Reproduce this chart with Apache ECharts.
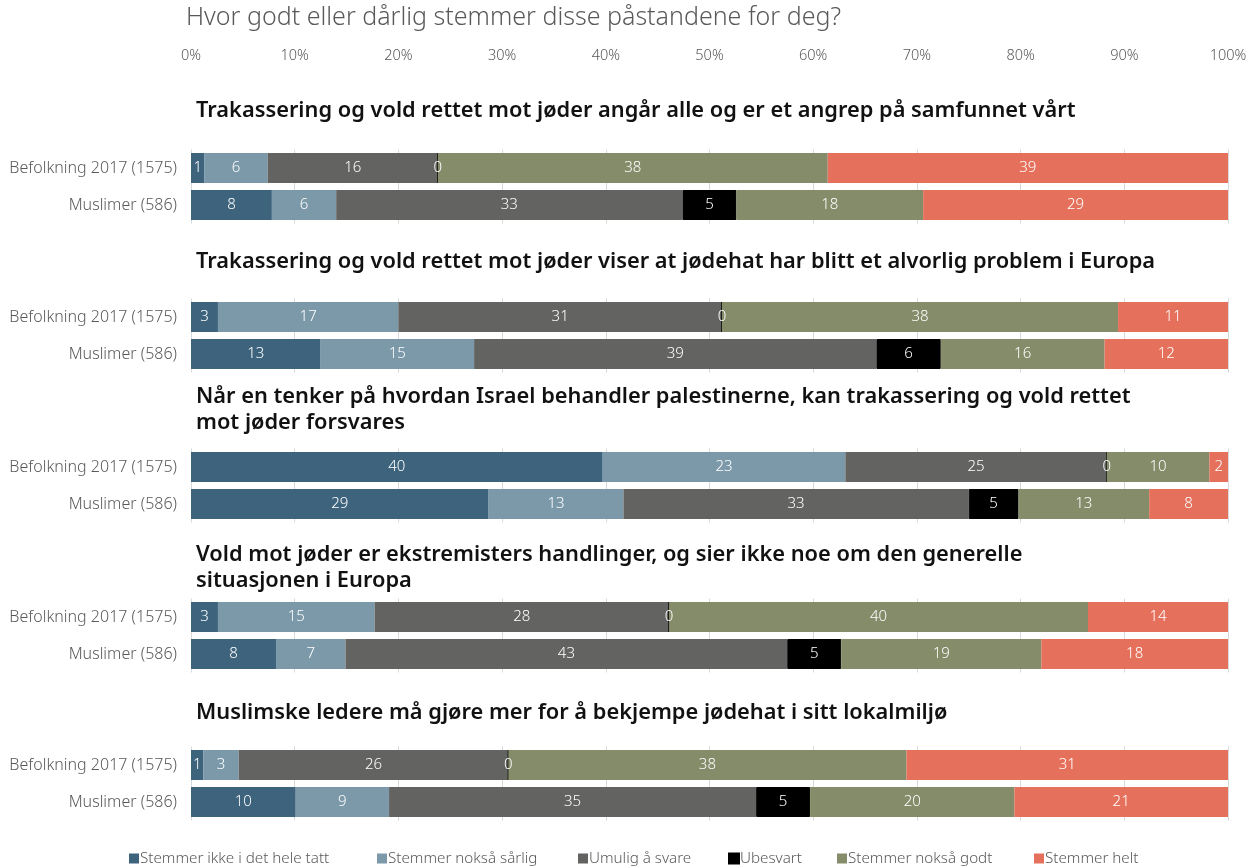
<!DOCTYPE html>
<html lang="no">
<head>
<meta charset="UTF-8">
<title>Påstander om jødehat</title>
<script src="https://cdn.jsdelivr.net/npm/echarts@6/dist/echarts.min.js"></script>
<style>
  html, body { margin: 0; padding: 0; background: #fff; }
  #chart { width: 1254px; height: 867px; }
</style>
</head>
<body>
<div id="chart"></div>
<script>
// rader i hver gruppe
var rader = ['Befolkning 2017 (1575)', 'Muslimer (586)'];

var paastander = [
    'Trakassering og vold rettet mot jøder angår alle og er et angrep på samfunnet vårt',
    'Trakassering og vold rettet mot jøder viser at jødehat har blitt et alvorlig problem i Europa',
    'Når en tenker på hvordan Israel behandler palestinerne, kan trakassering og vold rettet\nmot jøder forsvares',
    'Vold mot jøder er ekstremisters handlinger, og sier ikke noe om den generelle\nsituasjonen i Europa',
    'Muslimske ledere må gjøre mer for å bekjempe jødehat i sitt lokalmiljø'
];

var svar = ['Stemmer ikke i det hele tatt', 'Stemmer nokså sårlig', 'Umulig å svare',
    'Ubesvart', 'Stemmer nokså godt', 'Stemmer helt'];

// prosent, rekkefølge: påstand 1 bef, påstand 1 mus, påstand 2 bef, ...
var ikkeIHeleTatt = [1.3, 7.8, 2.6, 12.5, 39.7, 28.7, 2.6, 8.2, 1.2, 10.1];
var noksaSarlig   = [6.1, 6.2, 17.4, 14.8, 23.4, 13.0, 15.1, 6.7, 3.4, 9.0];
var umulig        = [16.4, 33.4, 31.2, 38.8, 25.2, 33.3, 28.4, 42.6, 26.0, 35.4];
var ubesvart      = [0, 5.2, 0, 6.2, 0, 4.8, 0, 5.2, 0, 5.2];
var noksaGodt     = [37.6, 18.0, 38.2, 15.8, 9.9, 12.6, 40.4, 19.3, 38.4, 19.7];
var helt          = [38.6, 29.4, 10.6, 11.9, 1.8, 7.6, 13.5, 18.0, 31.0, 20.6];

var farger = ['#3e637c', '#7b99a9', '#636361', '#000000', '#848c69', '#e5705c'];

var alleSvar = [ikkeIHeleTatt, noksaSarlig, umulig, ubesvart, noksaGodt, helt];
var gridTopp = [149.5, 298.5, 448.5, 598.5, 746.5];
var tittelTopp = [98, 249, 384, 542, 700];
// venstrekant for hver post i forklaringen
var legendVenstre = [129, 377, 578, 728, 837, 1034];
var font = 'Noto Sans';

var myChart = echarts.init(document.getElementById('chart'));

var titles = [{
    text: 'Hvor godt eller dårlig stemmer disse påstandene for deg?',
    left: 186, top: 5, padding: 0,
    textStyle: { fontFamily: font, fontSize: 25, fontWeight: 300, color: '#595959' }
}];
var grids = [], xAxes = [], yAxes = [], series = [];

for (var g = 0; g < paastander.length; g++) {
    titles.push({
        text: paastander[g],
        left: 196, top: tittelTopp[g], padding: 0,
        textStyle: { fontFamily: font, fontSize: 21.8, fontWeight: 600, color: '#111', lineHeight: 26 }
    });
    grids.push({ left: 191, right: 26, top: gridTopp[g], height: 74 });
    xAxes.push({
        type: 'value', gridIndex: g, min: 0, max: 100, interval: 10,
        position: 'top', offset: g === 0 ? 80 : 0,
        axisLine: { show: false }, axisTick: { show: false },
        axisLabel: {
            show: g === 0, formatter: '{value}%', margin: 6,
            fontFamily: font, fontSize: 14.5, fontWeight: 300, color: '#595959'
        },
        splitLine: { show: true, lineStyle: { color: '#d9d9d9', width: 1 } }
    });
    yAxes.push({
        type: 'category', gridIndex: g, data: rader, inverse: true,
        axisLine: { show: false }, axisTick: { show: false },
        axisLabel: { margin: 14, fontFamily: font, fontSize: 16, fontWeight: 300, color: '#595959' }
    });
    for (var s = 0; s < svar.length; s++) {
        series.push({
            name: svar[s], type: 'bar', stack: 'g' + g,
            xAxisIndex: g, yAxisIndex: g,
            barWidth: 30,
            data: [alleSvar[s][2 * g], alleSvar[s][2 * g + 1]],
            itemStyle: s === 3
                ? { color: farger[s], borderColor: '#000', borderWidth: 1 }
                : { color: farger[s] },
            label: {
                show: true, position: 'inside', color: '#fff',
                fontFamily: font, fontSize: 15, fontWeight: 300,
                formatter: function (p) { return Math.round(p.value); }
            },
            emphasis: { disabled: true }
        });
    }
}

var legends = svar.map(function (n, i) {
    return {
        data: [n], left: legendVenstre[i], top: 851, padding: 0,
        icon: 'rect', itemWidth: 10, itemHeight: 10,
        textStyle: { fontFamily: font, fontSize: 15.2, fontWeight: 300, color: '#595959', padding: [0, 0, 0, -4] }
    };
});

myChart.setOption({
    animation: false,
    title: titles,
    legend: legends,
    grid: grids,
    xAxis: xAxes,
    yAxis: yAxes,
    series: series
});
</script>
</body>
</html>
